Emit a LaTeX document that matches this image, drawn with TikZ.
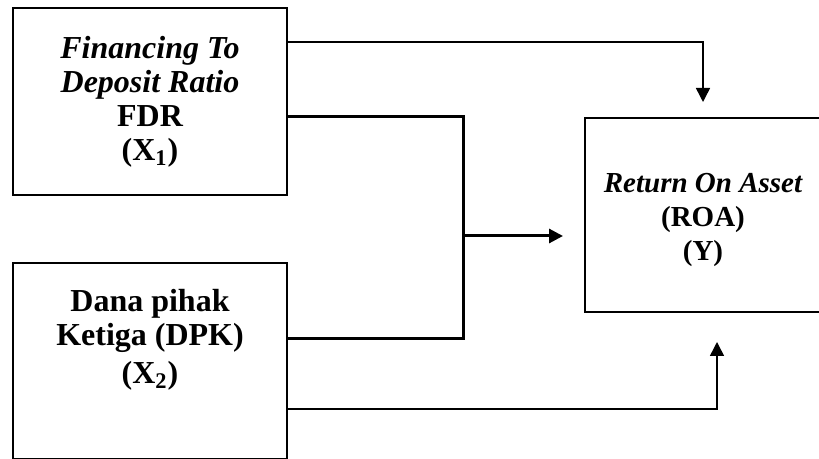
\documentclass[tikz,border=0pt]{standalone}
\usepackage{fontspec}
\setmainfont{Liberation Serif}
\usetikzlibrary{arrows.meta}

\begin{document}
\begin{tikzpicture}[x=0.5pt, y=-0.5pt,
		varbox/.style={draw, line width=0.75pt, inner sep=0pt},
		boxtext/.style={align=center, font=\fontsize{16}{17}\selectfont\bfseries},
		smalltext/.style={align=center, font=\fontsize{14.5}{17}\selectfont\bfseries},
		thinlink/.style={line width=0.75pt},
		thicklink/.style={line width=1.5pt},
		tip/.style={-{Triangle[length=7pt, width=7pt]}}
	]

	\useasboundingbox (0,0) rectangle (819,459);

	% boxes
	\node[varbox, boxtext, minimum width=137pt, minimum height=93.5pt] (fdr) at (150,101.5)
		{\itshape Financing To \\ \itshape Deposit Ratio \\ FDR \\ ($\mathbf{X}_{\mathbf{1}}$)};
	\node[varbox, minimum width=137pt, minimum height=98pt] (dpk) at (150,361) {};
	\node[boxtext, anchor=north] (dpktext) at ([yshift=-10pt]dpk.north)
		{Dana pihak \\ Ketiga (DPK) \\[2pt] ($\mathbf{X}_{\mathbf{2}}$)};
	\node[varbox, minimum width=118pt, minimum height=97pt] (roa) at (703,215) {};
	\node[smalltext] (roatext) at ([yshift=-2.5pt]roa.center)
		{\itshape Return On Asset \\ (ROA) \\ (Y)};

	% bend points
	\coordinate (topbend) at (703,42);
	\coordinate (toptip) at (703,102);
	\coordinate (jtop) at (463,117);
	\coordinate (jbot) at (463,339);
	\coordinate (jmid) at (463,236);
	\coordinate (midtip) at (563,236);
	\coordinate (botbend) at (717,409);
	\coordinate (bottip) at (717,342);

	% connectors
	\draw[thinlink, tip] (fdr.east |- topbend) -- (topbend) -- (toptip);
	\draw[thicklink] (fdr.east |- jtop) -- (jtop) -- (jbot) -- (dpk.east |- jbot);
	\draw[thicklink, tip] (jmid) -- (midtip);
	\draw[thinlink, tip] (dpk.east |- botbend) -- (botbend) -- (bottip);

\end{tikzpicture}
\end{document}
